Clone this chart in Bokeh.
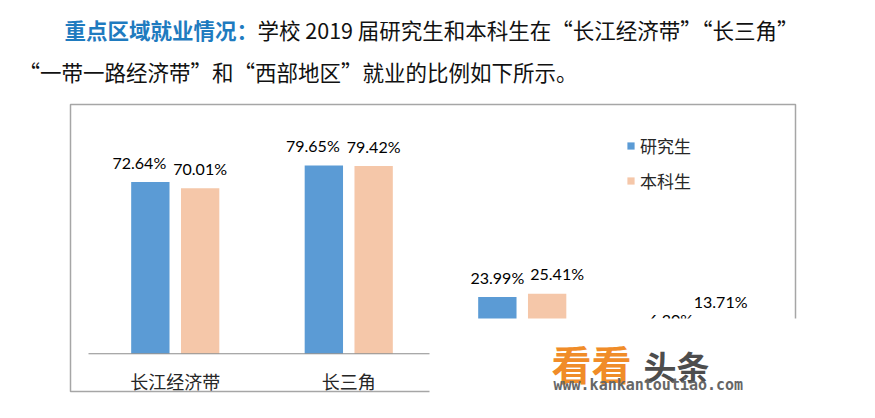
from bokeh.plotting import figure
from bokeh.models import FactorRange, Range1d, ColumnDataSource, Legend, LegendItem
from bokeh.transform import dodge
from bokeh.core.properties import value
from bokeh.embed import file_html
from bokeh.resources import INLINE

# ---------------- data ----------------
regions = ["长江经济带", "长三角", "一带一路经济带", "西部地区"]
series_names = ["研究生", "本科生"]
graduate = [72.64, 79.65, 23.99, 6.20]
undergrad = [70.01, 79.42, 25.41, 13.71]

heading = "重点区域就业情况："
intro_line1 = "学校 2019 届研究生和本科生在“长江经济带”“长三角”"
intro_line2 = "“一带一路经济带”和“西部地区”就业的比例如下所示。"
brand_orange = "看看"
brand_gray = "头条"
brand_url = "www.kankantoutiao.com"

# ---------------- style / layout ----------------
grad_label_shift = [-11, -11, 0, 0]
ug_label_shift = [0, 0, 10, 0]
BLUE = "#5b9bd5"
PEACH = "#f5c7a9"
CJK = "Noto Sans CJK SC"
NUM_FONT = "Lato"
DODGE = 0.1435
BAR_W = 0.221
PAD = 0.5072          # category padding (in category units)
FRAME_W = 870
UNIT = FRAME_W / (len(regions) + 2 * PAD)


def sx(px):
    """page pixel x -> synthetic categorical coordinate (for decorations)"""
    return px / UNIT - PAD


src = ColumnDataSource(dict(
    region=regions,
    grad=graduate,
    ug=undergrad,
    grad_lbl=[f"{v:.2f}%" for v in graduate],
    ug_lbl=[f"{v:.2f}%" for v in undergrad],
    grad_dx=grad_label_shift,
    ug_dx=ug_label_shift,
))

p = figure(
    width=875, height=418,
    x_range=FactorRange(factors=regions, range_padding=PAD, range_padding_units="absolute"),
    y_range=Range1d(-27.4, 149.5),
    x_axis_location=None, y_axis_location=None,
    min_border_left=0, min_border_top=0, min_border_bottom=0, min_border_right=875 - FRAME_W,
    toolbar_location=None, output_backend="svg",
    outline_line_color=None, background_fill_color="white", border_fill_color="white",
)
p.grid.grid_line_color = None
p.extra_y_ranges = {"px": Range1d(418, 0)}

# chart border
p.quad(left=sx(70), right=sx(795), top=104, bottom=391, y_range_name="px",
       fill_color=None, line_color="#a6a6a6", line_width=1.5)

# bars
r1 = p.vbar(x=dodge("region", -DODGE, range=p.x_range), top="grad", width=BAR_W,
            source=src, fill_color=BLUE, line_color=None)
r2 = p.vbar(x=dodge("region", DODGE, range=p.x_range), top="ug", width=BAR_W,
            source=src, fill_color=PEACH, line_color=None)

# baseline (value 0)
p.segment(x0=sx(88), x1=sx(783), y0=0, y1=0, line_color="#8c8c8c", line_width=1)

# data labels
p.text(x=dodge("region", -DODGE, range=p.x_range), y="grad", text="grad_lbl", source=src,
       x_offset="grad_dx", y_offset=-20, text_align="center", text_baseline="alphabetic",
       text_font=value(NUM_FONT), text_font_size="16px", text_color="#000000")
p.text(x=dodge("region", DODGE, range=p.x_range), y="ug", text="ug_lbl", source=src,
       x_offset="ug_dx", y_offset=-20, text_align="center", text_baseline="alphabetic",
       text_font=value(NUM_FONT), text_font_size="16px", text_color="#000000")

# category labels
p.text(x="region", y=0, text="region", source=src, y_offset=27,
       text_align="center", text_baseline="middle",
       text_font=value(CJK), text_font_size="18px", text_color="#262626")

# white cover over the lower-right part (as in the screenshot)
p.quad(left=sx(429), right=sx(875), top=318, bottom=418, y_range_name="px",
       fill_color="white", line_color=None)

# watermark
p.text(x=[sx(551)], y=[362], text=[brand_orange], y_range_name="px",
       text_align="left", text_baseline="middle", text_font=value(CJK),
       text_font_style="bold", text_font_size="40px", text_color="#f08c28")
p.text(x=[sx(643)], y=[365], text=[brand_gray], y_range_name="px",
       text_align="left", text_baseline="middle", text_font=value(CJK),
       text_font_style="bold", text_font_size="33px", text_color="#4d4d4d")
p.text(x=[sx(553)], y=[384], text=[brand_url], y_range_name="px",
       text_align="left", text_baseline="middle", text_font=value("DejaVu Sans Mono"),
       text_font_style="bold", text_font_size="15px", text_color="#666666")

# intro text
p.text(x=[sx(64)], y=[29], text=[heading], y_range_name="px",
       text_align="left", text_baseline="middle", text_font=value(CJK),
       text_font_style="bold", text_font_size="21.5px", text_color="#1f7bbf")
p.text(x=[sx(257)], y=[29], text=[intro_line1], y_range_name="px",
       text_align="left", text_baseline="middle", text_font=value(CJK),
       text_font_size="21.5px", text_color="#111111")
p.text(x=[sx(18)], y=[71], text=[intro_line2], y_range_name="px",
       text_align="left", text_baseline="middle", text_font=value(CJK),
       text_font_size="21.5px", text_color="#111111")

# legend
legend = Legend(
    items=[LegendItem(label=series_names[0], renderers=[r1]),
           LegendItem(label=series_names[1], renderers=[r2])],
    location=(626, 225),
    glyph_width=9, glyph_height=9, label_standoff=5, label_height=26, spacing=9,
    padding=0, margin=0, border_line_color=None, background_fill_alpha=0,
    label_text_font=CJK, label_text_font_size="17px", label_text_color="#262626",
)
p.add_layout(legend)

open("out.html", "w").write(file_html(p, INLINE))
